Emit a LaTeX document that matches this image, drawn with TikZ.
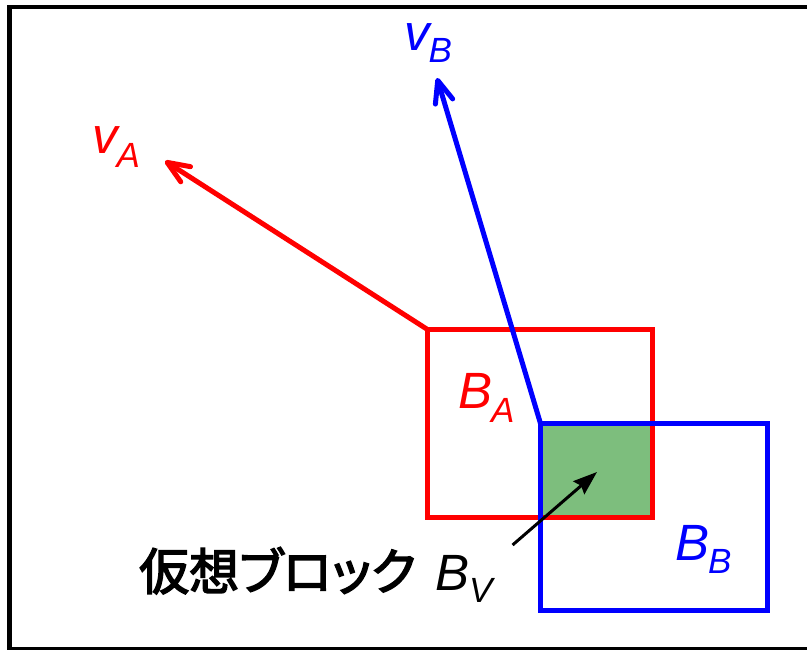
\documentclass[tikz,border=0pt]{standalone}
\usepackage{fontspec}
\setmainfont{Liberation Sans}
\newfontfamily\jpfont[RawFeature={+palt},FakeBold=3]{Noto Sans CJK JP}
\usetikzlibrary{arrows.meta,positioning}
\definecolor{virtgreen}{RGB}{125,190,125}
\newcommand{\veclabel}[3]{\itshape #1\kern-1pt\raisebox{-#3pt}{\fontsize{35}{35}\selectfont #2}}

\begin{document}
\begin{tikzpicture}[x=1pt,y=-1pt,>=Latex,
    lbl/.style={inner sep=0pt,anchor=base west,font=\fontsize{51}{51}\selectfont},
    barb/.style={line width=5pt,-{Straight Barb[length=22pt,width=18pt,round]}}]
  \useasboundingbox (0,0) rectangle (807,649);
  \clip (0,0) rectangle (807,649);
  \draw[line width=4.5pt] (9.5,7) rectangle (812,649);
  \coordinate (ra) at (427.5,329.5);
  \coordinate (rb) at (652.5,517.5);
  \coordinate (ba) at (540.5,423.5);
  \coordinate (bb) at (767,610.5);
  \fill[virtgreen] (ba) rectangle (rb);
  \draw[red,line width=5pt] (ra) rectangle (rb);
  \draw[blue,line width=5pt] (ba) rectangle (bb);
  \coordinate (vatip) at (165,161);
  \coordinate (vbtip) at (437,78);
  \draw[barb,red] (ra) -- (vatip);
  \draw[barb,blue] (ba) -- (vbtip);
  \node[lbl,red] (va) at (92,153) {\veclabel{v}{A}{14}};
  \node[lbl,blue] (vb) at (404,50) {\veclabel{v}{B}{12}};
  \node[lbl,red] (BA) at (458,408) {\veclabel{B}{A}{14}};
  \node[lbl,blue] (BB) at (675,560) {\veclabel{B}{B}{13}};
  \node[lbl] (BV) at (139,590)
    {{\jpfont\fontsize{50}{50}\selectfont 仮想ブロック}\kern20pt\veclabel{B}{V}{12}};
  \coordinate (vtip) at (597,472);
  \draw[line width=3pt,-{Stealth[length=24pt,width=17pt,inset=3pt]}]
    ([shift={(20,-45)}]BV.base east) -- (vtip);
\end{tikzpicture}
\end{document}
